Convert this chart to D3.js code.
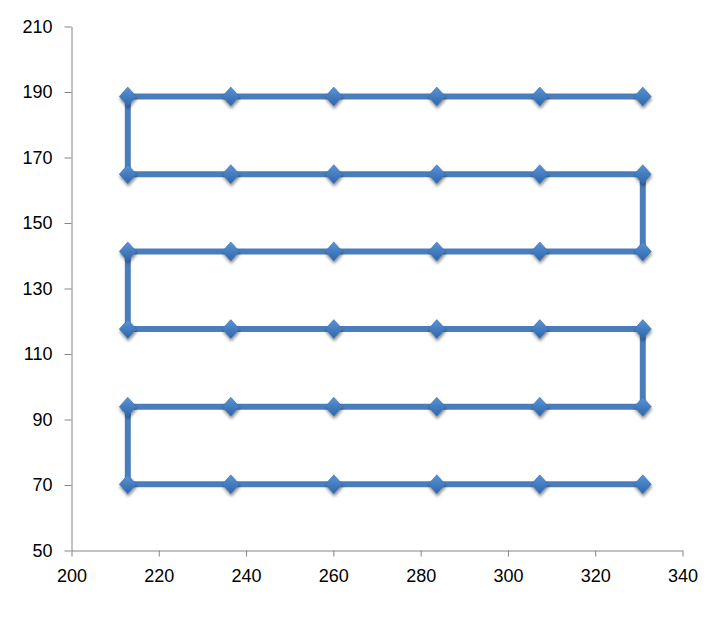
<!DOCTYPE html>
<html><head><meta charset="utf-8">
<script src="https://cdn.jsdelivr.net/npm/d3@7"></script>
<style>body{margin:0;background:#fff}svg{display:block}</style>
</head><body>
<svg id="c" width="726" height="637"></svg>
<script>
const xCols = [212.9, 236.5, 260.1, 283.7, 307.3, 330.9];
const yRows = [70.2, 93.9, 117.6, 141.3, 164.9, 188.6];
const xTicks = [200, 220, 240, 260, 280, 300, 320, 340];
const yTicks = [50, 70, 90, 110, 130, 150, 170, 190, 210];

// serpentine path order
const points = [];
yRows.forEach((y, i) => {
  const cols = i % 2 === 0 ? xCols.slice().reverse() : xCols.slice();
  cols.forEach(x => points.push({x, y}));
});

const svg = d3.select("#c");
const x = d3.scaleLinear().domain([200, 340]).range([71.5, 682.5]);
const y = d3.scaleLinear().domain([50, 210]).range([550.5, 26.5]);

const defs = svg.append("defs");
const g = defs.append("linearGradient").attr("id","mg").attr("x1","0").attr("y1","0").attr("x2","0").attr("y2","1");
g.append("stop").attr("offset","0").attr("stop-color","#5b93d6");
g.append("stop").attr("offset","1").attr("stop-color","#2e66ab");
const f = defs.append("filter").attr("id","sh").attr("x","-50%").attr("y","-50%").attr("width","200%").attr("height","200%");
f.append("feDropShadow").attr("dx",0.5).attr("dy",2.5).attr("stdDeviation",1.6).attr("flood-color","#000").attr("flood-opacity",0.45);

const font = "'Liberation Sans', Arial, sans-serif";

const yAxis = d3.axisLeft(y).tickValues(yTicks).tickSize(7).tickPadding(12).tickSizeOuter(0);
const ya = svg.append("g").attr("transform","translate(71.5,0)").call(yAxis);
const xAxis = d3.axisBottom(x).tickValues(xTicks).tickSize(6).tickPadding(13).tickSizeOuter(0);
const xa = svg.append("g").attr("transform","translate(0,550.5)").call(xAxis);
[ya, xa].forEach(a => {
  a.select(".domain").attr("stroke","#868686").attr("stroke-width",1);
  a.selectAll(".tick line").attr("stroke","#868686").attr("stroke-width",1);
  a.selectAll(".tick text").attr("fill","#000").style("font-family",font).style("font-size","18px");
});

const line = d3.line().x(d => x(d.x)).y(d => y(d.y));
svg.append("path").datum(points).attr("d", line)
  .attr("fill","none").attr("stroke","#4a7ebb").attr("stroke-width",6).attr("stroke-linejoin","miter");

const diamond = "M0,-9.5L8.5,0L0,9.5L-8.5,0Z";
svg.append("g").selectAll("path").data(points).join("path")
  .attr("d", diamond)
  .attr("transform", d => `translate(${x(d.x)},${y(d.y)})`)
  .attr("fill","url(#mg)").attr("stroke","#3b70b0").attr("stroke-width",0.6)
  .attr("filter","url(#sh)");
</script>
</body></html>
